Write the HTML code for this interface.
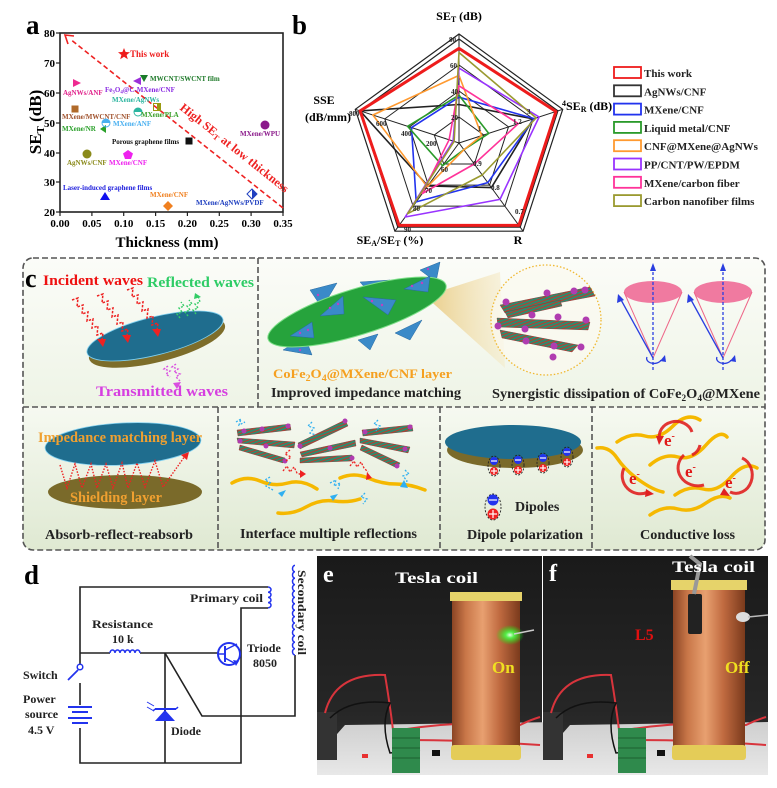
<!DOCTYPE html>
<html><head><meta charset="utf-8">
<style>
html,body{margin:0;padding:0;background:#fff;}
svg{display:block;}
text{font-family:"Liberation Serif",serif;font-weight:bold;}
</style></head>
<body>
<svg width="777" height="788" viewBox="0 0 777 788" xmlns="http://www.w3.org/2000/svg">
<defs>
  <linearGradient id="bgTop" x1="0" y1="0" x2="0" y2="1">
    <stop offset="0" stop-color="#fbfcf8"/><stop offset="1" stop-color="#eef4e6"/>
  </linearGradient>
  <linearGradient id="bgBot" x1="0" y1="0" x2="0" y2="1">
    <stop offset="0" stop-color="#f6f9f1"/><stop offset="1" stop-color="#dfe9d2"/>
  </linearGradient>
  <linearGradient id="copper" x1="0" y1="0" x2="1" y2="0">
    <stop offset="0" stop-color="#8a4424"/><stop offset="0.2" stop-color="#c87648"/>
    <stop offset="0.45" stop-color="#e8a070"/><stop offset="0.7" stop-color="#c06a40"/>
    <stop offset="1" stop-color="#7a3a1c"/>
  </linearGradient>
  <linearGradient id="dark" x1="0" y1="0" x2="0" y2="1">
    <stop offset="0" stop-color="#1a1a1a"/><stop offset="0.7" stop-color="#262626"/><stop offset="1" stop-color="#333"/>
  </linearGradient>
  <linearGradient id="table" x1="0" y1="0" x2="0" y2="1">
    <stop offset="0" stop-color="#cfcfcf"/><stop offset="1" stop-color="#e8e8e8"/>
  </linearGradient>
  <linearGradient id="cone" x1="0" y1="0" x2="1" y2="0">
    <stop offset="0" stop-color="#e8c77a" stop-opacity="0.9"/><stop offset="1" stop-color="#f5e6bb" stop-opacity="0.4"/>
  </linearGradient>
  <radialGradient id="glow" cx="0.5" cy="0.5" r="0.5">
    <stop offset="0" stop-color="#eaffea"/><stop offset="0.3" stop-color="#4cff4c" stop-opacity="0.9"/><stop offset="1" stop-color="#00ff00" stop-opacity="0"/>
  </radialGradient>
  <pattern id="st" width="3" height="3" patternUnits="userSpaceOnUse" patternTransform="rotate(70)">
    <rect width="3" height="3" fill="#2f8a6e"/><rect width="1" height="3" fill="#c0392b"/>
  </pattern>
</defs>

<!-- ================= PANEL A ================= -->
<text x="26" y="34" font-size="27">a</text>
<rect x="60" y="33" width="223" height="179" fill="none" stroke="#222" stroke-width="1.6"/>
<g stroke="#222" stroke-width="1.2">
  <line x1="56" y1="33" x2="60" y2="33"/><line x1="56" y1="63" x2="60" y2="63"/>
  <line x1="56" y1="93" x2="60" y2="93"/><line x1="56" y1="123" x2="60" y2="123"/>
  <line x1="56" y1="153" x2="60" y2="153"/><line x1="56" y1="182" x2="60" y2="182"/>
  <line x1="56" y1="212" x2="60" y2="212"/>
  <line x1="60" y1="212" x2="60" y2="216"/><line x1="91.9" y1="212" x2="91.9" y2="216"/>
  <line x1="123.7" y1="212" x2="123.7" y2="216"/><line x1="155.6" y1="212" x2="155.6" y2="216"/>
  <line x1="187.4" y1="212" x2="187.4" y2="216"/><line x1="219.3" y1="212" x2="219.3" y2="216"/>
  <line x1="251.1" y1="212" x2="251.1" y2="216"/><line x1="283" y1="212" x2="283" y2="216"/>
</g>
<g font-size="11" text-anchor="end">
  <text x="55" y="37">80</text><text x="55" y="67">70</text><text x="55" y="97">60</text>
  <text x="55" y="127">50</text><text x="55" y="157">40</text><text x="55" y="186">30</text>
  <text x="55" y="216">20</text>
</g>
<g font-size="11" text-anchor="middle">
  <text x="60" y="227">0.00</text><text x="91.9" y="227">0.05</text><text x="123.7" y="227">0.10</text>
  <text x="155.6" y="227">0.15</text><text x="187.4" y="227">0.20</text><text x="219.3" y="227">0.25</text>
  <text x="251.1" y="227">0.30</text><text x="283" y="227">0.35</text>
</g>
<text transform="translate(41,122) rotate(-90)" text-anchor="middle" font-size="17">SE<tspan font-size="11" dy="3">T</tspan><tspan dy="-3"> (dB)</tspan></text>
<text x="167" y="247" text-anchor="middle" font-size="15">Thickness (mm)</text>

<!-- red dashed trend line -->
<line x1="283" y1="208" x2="70" y2="39" stroke="#ee2222" stroke-width="1.6" stroke-dasharray="5,3"/>
<polyline points="74,36 65,35 68,44" fill="none" stroke="#ee2222" stroke-width="1.6"/>
<text transform="translate(232,151) rotate(38.5)" text-anchor="middle" font-size="12" fill="#ee2222" textLength="135" lengthAdjust="spacingAndGlyphs">High SE<tspan font-size="8" dy="2">T</tspan><tspan dy="-2"> at low thickness</tspan></text>

<!-- markers -->
<polygon points="124,48 125.6,52 130,52.2 126.6,55 127.8,59.3 124,56.8 120.2,59.3 121.4,55 118,52.2 122.4,52" fill="#ee1c1c"/>
<text x="130" y="57" font-size="9" fill="#ee1c1c">This work</text>
<polygon points="73,79 81,83 73,87" fill="#ee2a90"/>
<text x="63" y="95" font-size="7" fill="#e0208a">AgNWs/ANF</text>
<polygon points="141,77 133,81 141,85" fill="#9b30d9"/>
<text x="105" y="92" font-size="7" fill="#8a2be2">Fe<tspan font-size="5" dy="1.5">3</tspan><tspan dy="-1.5">O</tspan><tspan font-size="5" dy="1.5">4</tspan><tspan dy="-1.5">@C-MXene/CNF</tspan></text>
<polygon points="140,75 148,75 144,82" fill="#1a7a2a"/>
<text x="150" y="81" font-size="7" fill="#1f7a2a">MWCNT/SWCNT film</text>
<text x="112" y="102" font-size="7" fill="#2bb5a0">MXene/AgNWs</text>
<rect x="71.5" y="105.5" width="7" height="7" fill="#b06a2a"/>
<text x="62" y="119" font-size="7" fill="#a0522d">MXene/MWCNT/CNF</text>
<path d="M134,112 a4,4 0 0 1 8,0 z" fill="#2bb5a0"/><circle cx="138" cy="112" r="4" fill="none" stroke="#2bb5a0"/>
<rect x="153.5" y="103.5" width="7" height="7" fill="none" stroke="#9a9a10"/><rect x="157" y="103.5" width="3.5" height="7" fill="#9a9a10"/>
<text x="141" y="117" font-size="7" fill="#3aa02a">MXene/PLA</text>
<polygon points="100,129 106,125 106,133" fill="#2aa02a"/>
<text x="62" y="131" font-size="7" fill="#2aa02a">MXene/NR</text>
<path d="M102,123 a4,4 0 0 1 8,0 z" fill="#4ab0f0"/><circle cx="106" cy="123" r="4" fill="none" stroke="#4ab0f0"/>
<text x="113" y="126" font-size="7" fill="#4ab0f0">MXene/ANF</text>
<circle cx="265" cy="125" r="4.5" fill="#8b1a8b"/>
<text x="240" y="136" font-size="7" fill="#8b1a8b">MXene/WPU</text>
<rect x="185.5" y="137.5" width="7" height="7" fill="#111"/>
<text x="112" y="144" font-size="7" fill="#111">Porous graphene films</text>
<circle cx="87" cy="154" r="4.5" fill="#8a8a1a"/>
<text x="67" y="165" font-size="7" fill="#8a8a1a">AgNWs/CNF</text>
<polygon points="128,150 133,153.5 131,159 125,159 123,153.5" fill="#ee22ee"/>
<text x="109" y="165" font-size="7" fill="#ee22ee">MXene/CNF</text>
<text x="63" y="190" font-size="7" fill="#2020dd">Laser-induced graphene films</text>
<polygon points="105,192 110,200 100,200" fill="#1010ee"/>
<text x="150" y="197" font-size="7" fill="#f08020">MXene/CNF</text>
<polygon points="168,201 173,206 168,211 163,206" fill="#f08020"/>
<text x="196" y="205" font-size="7" fill="#2040c0">MXene/AgNWs/PVDF</text>
<polygon points="252,189 257,194 252,199 247,194" fill="none" stroke="#2040c0"/><polygon points="252,189 257,194 252,199" fill="#2040c0"/>

<!-- ================= PANEL B ================= -->
<text x="292" y="34" font-size="27">b</text>
<text x="459" y="20" text-anchor="middle" font-size="12">SE<tspan font-size="8" dy="2">T</tspan><tspan dy="-2"> (dB)</tspan></text>
<text x="324" y="104" text-anchor="middle" font-size="12">SSE</text>
<text x="328" y="121" text-anchor="middle" font-size="12">(dB/mm)</text>
<text x="562" y="110" font-size="12"><tspan font-size="8" dy="-4">4</tspan><tspan dy="4">SE</tspan><tspan font-size="8" dy="2">R</tspan><tspan dy="-2"> (dB)</tspan></text>
<text x="390" y="244" text-anchor="middle" font-size="12">SE<tspan font-size="8" dy="2">A</tspan><tspan dy="-2">/SE</tspan><tspan font-size="8" dy="2">T</tspan><tspan dy="-2"> (%)</tspan></text>
<text x="518" y="244" text-anchor="middle" font-size="12">R</text>

<g fill="none" stroke="#222" stroke-width="1">
  <polygon points="459,34 562.7,109.3 523.1,231.2 394.9,231.2 355.3,109.3" stroke-width="1.2"/>
  <polygon points="459,39 557.9,110.9 520.2,227.1 397.8,227.1 360.1,110.9" stroke-width="1.2"/>
  <polygon points="459,65 533.2,118.9 504.9,206.1 413.1,206.1 384.8,118.9"/>
  <polygon points="459,91 508.5,126.9 489.6,185.1 428.4,185.1 409.5,126.9"/>
  <polygon points="459,117 483.7,135 474.3,164 443.7,164 434.3,135"/>
  <line x1="459" y1="143" x2="459" y2="34"/>
  <line x1="459" y1="143" x2="562.7" y2="109.3"/>
  <line x1="459" y1="143" x2="523.1" y2="231.2"/>
  <line x1="459" y1="143" x2="394.9" y2="231.2"/>
  <line x1="459" y1="143" x2="355.3" y2="109.3"/>
</g>
<g fill="none" stroke-width="1.6" stroke-linejoin="round">
  <polygon points="459,104.5 533.2,118.9 491.4,187.6 427.8,185.9 360.1,110.9" stroke="#222"/>
  <polygon points="459,97.2 534.1,118.6 487.8,182.6 416.2,201.9 411.5,127.6" stroke="#2233ee"/>
  <polygon points="459,95.2 488.7,133.4 463.9,149.7 442.5,165.7 407.6,126.3" stroke="#2a9a2a"/>
  <polygon points="459,75.4 481.7,135.6 463.9,149.7 427.2,186.8 372.9,115" stroke="#ff9a30"/>
  <polygon points="459,68.1 539.1,117 500,199.4 405.2,217 453.1,141.1" stroke="#9933ff"/>
  <polygon points="459,85.8 518.3,123.7 474.3,164 422.3,193.5 449.1,139.8" stroke="#ff3399"/>
  <polygon points="459,52.5 536.1,117.9 482.2,175 407.6,213.7 454.1,141.4" stroke="#9a9a30"/>
  <polygon points="459,48.4 555.9,111.5 518.9,225.4 399.1,225.4 360.1,110.9" stroke="#ee1c1c" stroke-width="3"/>
</g>
<g font-size="7" fill="#222">
  <text x="449" y="42">80</text><text x="450" y="68">60</text><text x="451" y="94">40</text><text x="451" y="120">20</text>
  <text x="349" y="116">800</text><text x="376" y="126">600</text><text x="401" y="136">400</text><text x="426" y="146">200</text>
  <text x="527" y="114">3</text><text x="513" y="124">1.2</text><text x="478" y="131">1</text>
  <text x="473" y="166">0.9</text><text x="491" y="190">0.8</text><text x="515" y="214">0.7</text>
  <text x="441" y="172">60</text><text x="425" y="193">70</text><text x="413" y="211">80</text><text x="404" y="232">90</text>
</g>

<!-- legend -->
<g fill="none" stroke-width="1.8">
  <rect x="614" y="67" width="27" height="11" stroke="#ee1c1c"/>
  <rect x="614" y="85.3" width="27" height="11" stroke="#333"/>
  <rect x="614" y="103.6" width="27" height="11" stroke="#2233ee"/>
  <rect x="614" y="121.9" width="27" height="11" stroke="#2a9a2a"/>
  <rect x="614" y="140.2" width="27" height="11" stroke="#ff9a30"/>
  <rect x="614" y="158.5" width="27" height="11" stroke="#9933ff"/>
  <rect x="614" y="176.8" width="27" height="11" stroke="#ff3399"/>
  <rect x="614" y="195.1" width="27" height="11" stroke="#9a9a30"/>
</g>
<g font-size="11" fill="#222">
  <text x="644" y="77">This work</text>
  <text x="644" y="95.3">AgNWs/CNF</text>
  <text x="644" y="113.6">MXene/CNF</text>
  <text x="644" y="131.9">Liquid metal/CNF</text>
  <text x="644" y="150.2">CNF@MXene@AgNWs</text>
  <text x="644" y="168.5">PP/CNT/PW/EPDM</text>
  <text x="644" y="186.8">MXene/carbon fiber</text>
  <text x="644" y="205.1">Carbon nanofiber films</text>
</g>

<!-- ================= PANEL C ================= -->
<path d="M23,407 V268 a10,10 0 0 1 10,-10 H755 a10,10 0 0 1 10,10 V407 Z" fill="url(#bgTop)"/>
<path d="M23,407 H765 V540 a10,10 0 0 1 -10,10 H33 a10,10 0 0 1 -10,-10 Z" fill="url(#bgBot)"/>
<g fill="none" stroke="#555" stroke-width="1.6" stroke-dasharray="6,3">
  <rect x="23" y="258" width="742" height="292" rx="10"/>
  <line x1="23" y1="407" x2="765" y2="407"/>
  <line x1="258" y1="258" x2="258" y2="407"/>
  <line x1="218" y1="407" x2="218" y2="550"/>
  <line x1="440" y1="407" x2="440" y2="550"/>
  <line x1="592" y1="407" x2="592" y2="550"/>
</g>
<text x="25" y="287" font-size="26">c</text>

<!-- top-left cell -->
<ellipse cx="157" cy="342" rx="70" ry="20" transform="rotate(-14 157 342)" fill="#7d6d2a"/>
<ellipse cx="155" cy="336" rx="70" ry="19" transform="rotate(-14 155 336)" fill="#1f6d8e" stroke="#7fd0f0" stroke-width="0.8"/>
<g fill="none" stroke="#ee2222" stroke-width="1.5" stroke-dasharray="2.5,1.5">
  <path d="M72,300 l6,-2 l-1,9 l6,-2 l-1,9 l6,-2 l-1,9 l6,-2 l-1,9 l6,-2 l-1,9 l6,-2 l-1,7"/>
  <path d="M97,296 l6,-2 l-1,9 l6,-2 l-1,9 l6,-2 l-1,9 l6,-2 l-1,9 l6,-2 l-1,9 l6,-2 l-1,7"/>
  <path d="M127,290 l6,-2 l-1,9 l6,-2 l-1,9 l6,-2 l-1,9 l6,-2 l-1,9 l6,-2 l-1,9 l6,-2 l-1,7"/>
</g>
<g fill="#ee2222">
  <polygon points="97,339 106,339 103,347"/><polygon points="122,335 131,335 128,343"/><polygon points="152,329 161,329 158,337"/>
</g>
<g fill="none" stroke="#33cc66" stroke-width="1.4" stroke-dasharray="2,1.5">
  <path d="M180,318 l-3,-4 l5,-2 l-3,-4 l5,-2 l-3,-4"/>
  <path d="M188,316 l-3,-4 l5,-2 l-3,-4 l5,-2 l-3,-4"/>
  <path d="M196,314 l-3,-4 l5,-2 l-3,-4 l5,-2 l-2,-6"/>
</g>
<polygon points="195,293 201,297 194,299" fill="#33cc66"/>
<g fill="none" stroke="#d94ee0" stroke-width="1.4" stroke-dasharray="2,1.5">
  <path d="M176,364 l-4,3 l6,2 l-4,3 l6,2 l-4,3 l4,4"/>
  <path d="M168,366 l-4,3 l6,2 l-4,3 l4,3"/>
</g>
<polygon points="173,383 181,382 177,389" fill="#d94ee0"/>
<text x="43" y="285" font-size="15" fill="#ee1111" textLength="100" lengthAdjust="spacingAndGlyphs">Incident waves</text>
<text x="147" y="287" font-size="15" fill="#2ecc66" textLength="107" lengthAdjust="spacingAndGlyphs">Reflected waves</text>
<text x="96" y="396" font-size="15" fill="#d63fe0" textLength="132" lengthAdjust="spacingAndGlyphs">Transmitted waves</text>

<!-- top-middle cell -->
<polygon points="425,296 500,272 505,368" fill="url(#cone)"/>
<g fill="#3a8ac8" stroke="#2a6aa0" stroke-width="0.5">
  <polygon points="283,350 305,337 312,355"/>
  <polygon points="310,290 337,283 322,308"/>
  <polygon points="420,270 440,262 436,282"/>
  <polygon points="360,282 390,280 372,296"/>
  <polygon points="395,333 422,320 410,340"/>
  <polygon points="358,340 378,334 370,350"/>
</g>
<ellipse cx="357" cy="312" rx="93" ry="23" transform="rotate(-17 357 312)" fill="#26a33c" stroke="#7fe08a" stroke-width="1"/>
<g fill="#3a8ac8" stroke="#2a6aa0" stroke-width="0.5">
  <polygon points="290,336 312,322 314,338"/>
  <polygon points="320,316 343,296 344,314"/>
  <polygon points="363,297 396,300 388,315"/>
  <polygon points="404,289 430,276 428,292"/>
</g>
<g fill="#c040c0">
  <circle cx="300" cy="333" r="1.2"/><circle cx="308" cy="330" r="1.2"/><circle cx="330" cy="308" r="1.2"/><circle cx="338" cy="304" r="1.2"/>
  <circle cx="372" cy="301" r="1.2"/><circle cx="382" cy="305" r="1.2"/><circle cx="412" cy="286" r="1.2"/><circle cx="422" cy="283" r="1.2"/>
  <circle cx="300" cy="350" r="1.2"/><circle cx="318" cy="295" r="1.2"/><circle cx="428" cy="269" r="1.2"/>
</g>
<circle cx="546" cy="320" r="55" fill="#fbfaf0" fill-opacity="0.7" stroke="#f0b830" stroke-width="1.3" stroke-dasharray="1.5,2"/>
<g stroke="#8a3030" stroke-width="0.4">
  <polygon points="500,305 590,287 595,296 505,313" fill="url(#st)"/>
  <polygon points="497,318 590,322 588,330 498,327" fill="url(#st)"/>
  <polygon points="500,330 578,345 572,352 502,338" fill="url(#st)"/>
  <polygon points="505,312 560,300 562,306 508,318" fill="url(#st)"/>
</g>
<g fill="#b03cb0">
  <circle cx="547" cy="293" r="3.5"/><circle cx="574" cy="291" r="3.5"/><circle cx="585" cy="290" r="3.5"/>
  <circle cx="506" cy="302" r="3.5"/><circle cx="532" cy="315" r="3.5"/><circle cx="558" cy="317" r="3.5"/>
  <circle cx="586" cy="320" r="3.5"/><circle cx="498" cy="326" r="3.5"/><circle cx="525" cy="329" r="3.5"/>
  <circle cx="526" cy="341" r="3.5"/><circle cx="554" cy="346" r="3.5"/><circle cx="581" cy="347" r="3.5"/><circle cx="553" cy="357" r="3.5"/>
</g>
<text x="273" y="378" font-size="13" fill="#f5a020" textLength="179" lengthAdjust="spacingAndGlyphs">CoFe<tspan font-size="9" dy="3">2</tspan><tspan dy="-3">O</tspan><tspan font-size="9" dy="3">4</tspan><tspan dy="-3">@MXene/CNF layer</tspan></text>
<text x="271" y="397" font-size="14" fill="#222" textLength="190" lengthAdjust="spacingAndGlyphs">Improved impedance matching</text>

<!-- top-right cones -->
<g>
  <ellipse cx="653" cy="292" rx="29" ry="11" fill="#f07aa0"/>
  <ellipse cx="723" cy="292" rx="29" ry="11" fill="#f07aa0"/>
  <g stroke="#ee6688" stroke-width="1" fill="none">
    <path d="M624,292 L653,358 L682,292"/><path d="M694,292 L723,358 L752,292"/>
  </g>
  <g stroke="#2a3ee0" stroke-width="1.3" fill="none">
    <line x1="653" y1="370" x2="653" y2="268" stroke-dasharray="3,2"/>
    <line x1="723" y1="370" x2="723" y2="268" stroke-dasharray="3,2"/>
    <line x1="653" y1="358" x2="620" y2="298"/>
    <line x1="723" y1="358" x2="690" y2="298"/>
    <path d="M647,357 a6,4 0 1 0 14,3"/><path d="M717,357 a6,4 0 1 0 14,3"/>
  </g>
  <g fill="#2a3ee0">
    <polygon points="653,263 650,271 656,271"/><polygon points="723,263 720,271 726,271"/>
    <polygon points="618,294 617,303 624,300"/><polygon points="688,294 687,303 694,300"/>
    <polygon points="665,355 660,361 666,362"/><polygon points="735,355 730,361 736,362"/>
  </g>
</g>
<text x="492" y="398" font-size="14" fill="#222" textLength="268" lengthAdjust="spacingAndGlyphs">Synergistic dissipation of CoFe<tspan font-size="9" dy="3">2</tspan><tspan dy="-3">O</tspan><tspan font-size="9" dy="3">4</tspan><tspan dy="-3">@MXene</tspan></text>

<!-- bottom cell 1 -->
<ellipse cx="125" cy="492" rx="77" ry="17" fill="#7a6a2a"/>
<ellipse cx="123" cy="444" rx="78" ry="21" transform="rotate(-3 123 444)" fill="#1f6d8e" stroke="#80d0f0" stroke-width="0.8"/>
<path d="M60,465 L67,488 L75,464 L82,488 L91,464 L97,488 L106,464 L113,488 L122,463 L128,488 L137,463 L145,487 L155,461 L163,487 L185,456" fill="none" stroke="#ee2222" stroke-width="1.4" stroke-dasharray="1.5,1.5"/>
<polygon points="189,452 181,455 187,460" fill="#ee2222"/>
<text x="38" y="442" font-size="15" fill="#f0a030" textLength="164" lengthAdjust="spacingAndGlyphs">Impedance matching layer</text>
<text x="70" y="502" font-size="15" fill="#f0a030" textLength="92" lengthAdjust="spacingAndGlyphs">Shielding layer</text>
<text x="45" y="539" font-size="14" fill="#222" textLength="148" lengthAdjust="spacingAndGlyphs">Absorb-reflect-reabsorb</text>

<!-- bottom cell 2 -->
<g stroke="#8a3030" stroke-width="0.4">
  <polygon points="237,430 290,424 291,430 238,436" fill="url(#st)"/>
  <polygon points="237,438 295,442 294,448 238,443" fill="url(#st)"/>
  <polygon points="240,445 285,458 283,463 239,450" fill="url(#st)"/>
  <polygon points="298,443 345,420 348,426 300,449" fill="url(#st)"/>
  <polygon points="300,452 355,440 356,446 302,457" fill="url(#st)"/>
  <polygon points="300,458 352,455 352,461 300,463" fill="url(#st)"/>
  <polygon points="362,430 412,425 413,431 363,436" fill="url(#st)"/>
  <polygon points="360,438 410,447 408,453 360,443" fill="url(#st)"/>
  <polygon points="362,445 400,463 397,468 360,450" fill="url(#st)"/>
</g>
<g fill="#b03cb0">
  <circle cx="244" cy="431" r="2.5"/><circle cx="262" cy="429" r="2.5"/><circle cx="288" cy="426" r="2.5"/><circle cx="240" cy="441" r="2.5"/>
  <circle cx="266" cy="446" r="2.5"/><circle cx="285" cy="461" r="2.5"/><circle cx="300" cy="446" r="2.5"/><circle cx="345" cy="421" r="2.5"/>
  <circle cx="330" cy="448" r="2.5"/><circle cx="352" cy="458" r="2.5"/><circle cx="365" cy="432" r="2.5"/><circle cx="410" cy="427" r="2.5"/>
  <circle cx="405" cy="449" r="2.5"/><circle cx="397" cy="466" r="2.5"/>
</g>
<g fill="none" stroke="#f5b800" stroke-width="3.5" stroke-linecap="round">
  <path d="M232,483 q14,-8 28,-2 t28,2 t29,6"/>
  <path d="M340,478 q14,-6 28,0 t28,6 t29,6"/>
  <path d="M278,513 q14,2 28,-6 t28,-6 t26,-2"/>
</g>
<g fill="none" stroke="#30b0f0" stroke-width="1.3" stroke-dasharray="2,1.5">
  <path d="M236,422 l5,-3 l-2,6 l6,-3"/><path d="M312,422 l-4,4 l6,2 l-4,5 l6,2"/><path d="M378,420 l-4,4 l6,2 l-4,5"/>
  <path d="M270,477 l-5,3 l6,3 l-5,3 l7,4"/><path d="M330,483 l6,-3 l-2,6 l6,-3 l-2,6"/><path d="M365,493 l-4,4 l6,2 l-4,5"/>
  <path d="M405,470 l4,4 l-6,2 l4,5 l-3,4"/>
</g>
<g fill="none" stroke="#ee2222" stroke-width="1.3" stroke-dasharray="2,1.5">
  <path d="M283,471 l4,-5 l3,6 l4,-5 l3,6 l5,2"/><path d="M350,466 l4,-5 l3,6 l4,-5 l3,6 l4,4"/><path d="M290,450 l-5,4 l6,3 l-5,4"/>
</g>
<g fill="#30b0f0"><polygon points="278,493 286,490 282,497"/><polygon points="330,496 338,494 333,501"/><polygon points="408,488 400,487 404,480"/></g>
<g fill="#ee2222"><polygon points="306,474 300,478 300,470"/><polygon points="372,478 366,480 367,472"/></g>
<text x="240" y="538" font-size="14" fill="#222" textLength="177" lengthAdjust="spacingAndGlyphs">Interface multiple reflections</text>

<!-- bottom cell 3 -->
<ellipse cx="515" cy="450" rx="68" ry="18" fill="#7a6a2a"/>
<ellipse cx="513" cy="442" rx="68" ry="17" fill="#1f6d8e"/>
<g fill="none" stroke="#222" stroke-width="0.9" stroke-dasharray="2,1.5">
  <ellipse cx="494" cy="466" rx="6" ry="10"/><ellipse cx="518" cy="465" rx="6" ry="10"/>
  <ellipse cx="543" cy="463" rx="6" ry="10"/><ellipse cx="567" cy="457" rx="6" ry="10"/>
  <ellipse cx="493" cy="507" rx="8" ry="13"/>
</g>
<g fill="#2233ee">
  <circle cx="494" cy="461" r="4"/><circle cx="518" cy="460" r="4"/><circle cx="543" cy="458" r="4"/><circle cx="567" cy="452" r="4"/><circle cx="493" cy="500" r="5.5"/>
</g>
<g fill="#ee2222">
  <circle cx="494" cy="471" r="4"/><circle cx="518" cy="470" r="4"/><circle cx="543" cy="468" r="4"/><circle cx="567" cy="462" r="4"/><circle cx="493" cy="514" r="5.5"/>
</g>
<g stroke="#fff" stroke-width="1.2">
  <line x1="491" y1="461" x2="497" y2="461"/><line x1="515" y1="460" x2="521" y2="460"/><line x1="540" y1="458" x2="546" y2="458"/><line x1="564" y1="452" x2="570" y2="452"/><line x1="489" y1="500" x2="497" y2="500"/>
  <line x1="491" y1="471" x2="497" y2="471"/><line x1="494" y1="468" x2="494" y2="474"/>
  <line x1="515" y1="470" x2="521" y2="470"/><line x1="518" y1="467" x2="518" y2="473"/>
  <line x1="540" y1="468" x2="546" y2="468"/><line x1="543" y1="465" x2="543" y2="471"/>
  <line x1="564" y1="462" x2="570" y2="462"/><line x1="567" y1="459" x2="567" y2="465"/>
  <line x1="489" y1="514" x2="497" y2="514"/><line x1="493" y1="510" x2="493" y2="518"/>
</g>
<text x="515" y="511" font-size="14" fill="#222">Dipoles</text>
<text x="467" y="539" font-size="14" fill="#222" textLength="116" lengthAdjust="spacingAndGlyphs">Dipole polarization</text>

<!-- bottom cell 4 -->
<g fill="none" stroke="#f5b800" stroke-width="3.5" stroke-linecap="round">
  <path d="M597,448 q12,-2 20,10 t22,22 t24,12"/>
  <path d="M617,442 q14,-10 28,-6 t28,-10 t27,-6"/>
  <path d="M650,465 q14,-12 28,-8 t28,-12 t21,-8"/>
  <path d="M675,495 q14,-10 28,-6 t28,-12 t26,-9"/>
  <path d="M650,515 q14,-10 28,-6 t28,-6 t24,-5"/>
</g>
<g fill="none" stroke="#e02020" stroke-width="3" stroke-opacity="0.9">
  <path d="M660,440 a16,14 0 0 1 32,-8"/><path d="M624,468 a18,18 0 0 0 24,24"/>
  <path d="M684,455 a20,18 0 0 0 20,30"/><path d="M742,458 a16,18 0 0 1 -12,34"/>
  <path d="M700,445 a14,14 0 0 1 -8,10"/>
</g>
<g fill="#e02020">
  <polygon points="656,436 664,436 659,445"/><polygon points="646,489 654,494 645,497"/><polygon points="724,488 730,496 720,495"/>
</g>
<g font-size="17" fill="#e01818" font-weight="normal">
  <text x="664" y="446">e<tspan font-size="10" dy="-7">-</tspan></text>
  <text x="629" y="484">e<tspan font-size="10" dy="-7">-</tspan></text>
  <text x="685" y="477">e<tspan font-size="10" dy="-7">-</tspan></text>
  <text x="725" y="488">e<tspan font-size="10" dy="-7">-</tspan></text>
</g>
<text x="640" y="539" font-size="14" fill="#222" textLength="95" lengthAdjust="spacingAndGlyphs">Conductive loss</text>

<!-- ================= PANEL D ================= -->
<text x="24" y="584" font-size="27">d</text>
<g fill="none" stroke="#222" stroke-width="1.6">
  <path d="M80,664 V587 H268"/>
  <path d="M268,608 H241 V763 H80 V728"/>
  <path d="M80,683 V705"/>
  <path d="M80,653 H110"/>
  <path d="M140,653 H218"/>
  <path d="M165,653 V763"/>
  <path d="M165,653 L202,716 H295 V655"/>
  <path d="M165,709 V721"/>
</g>
<g fill="none" stroke="#2233ee" stroke-width="1.5">
  <path d="M268,587 a3,2.6 0 0 1 0,5.2 a3,2.6 0 0 1 0,5.2 a3,2.6 0 0 1 0,5.2 a3,2.6 0 0 1 0,5.2"/>
  <path d="M295,655 a2.5,3.2 0 0 1 0,-6.4 a2.5,3.2 0 0 1 0,-6.4 a2.5,3.2 0 0 1 0,-6.4 a2.5,3.2 0 0 1 0,-6.4 a2.5,3.2 0 0 1 0,-6.4 a2.5,3.2 0 0 1 0,-6.4 a2.5,3.2 0 0 1 0,-6.4 a2.5,3.2 0 0 1 0,-6.4 a2.5,3.2 0 0 1 0,-6.4 a2.5,3.2 0 0 1 0,-6.4 a2.5,3.2 0 0 1 0,-6.4 a2.5,3.2 0 0 1 0,-6.4 a2.5,3.2 0 0 1 0,-6.4 a2.5,3.2 0 0 1 0,-6.4"/>
  <path d="M110,653 a2.5,3 0 0 1 5,0 a2.5,3 0 0 1 5,0 a2.5,3 0 0 1 5,0 a2.5,3 0 0 1 5,0 a2.5,3 0 0 1 5,0 a2.5,3 0 0 1 5,0"/>
  <circle cx="229" cy="654" r="11" stroke-width="2"/>
  <line x1="225" y1="646" x2="225" y2="662" stroke-width="2"/>
  <line x1="218" y1="654" x2="225" y2="654"/>
  <line x1="225" y1="650" x2="237" y2="644"/>
  <line x1="225" y1="658" x2="236" y2="664"/>
  <circle cx="80" cy="667" r="2.8"/>
  <line x1="78" y1="670" x2="68" y2="680" stroke-width="1.8"/>
  <line x1="68" y1="707" x2="92" y2="707" stroke-width="2"/>
  <line x1="72" y1="712" x2="88" y2="712" stroke-width="2"/>
  <line x1="68" y1="718" x2="92" y2="718" stroke-width="2"/>
  <line x1="72" y1="723" x2="88" y2="723" stroke-width="2"/>
  <line x1="155" y1="709" x2="176" y2="709" stroke-width="2"/>
  <path d="M155,709 l-2,2 M176,709 l2,-2"/>
  <path d="M154,706 l-7,-4 M154,711 l-7,-4" stroke-width="1"/>
</g>
<polygon points="155,721 175,721 165,710" fill="#2233ee"/>
<polygon points="236,666 233,660 239,661" fill="#2233ee"/>
<g font-size="12" fill="#222">
  <text x="190" y="602" textLength="73" lengthAdjust="spacingAndGlyphs">Primary coil</text>
  <text x="92" y="628" textLength="61" lengthAdjust="spacingAndGlyphs">Resistance</text>
  <text x="112" y="643">10 k</text>
  <text x="247" y="652">Triode</text>
  <text x="253" y="667">8050</text>
  <text x="23" y="679">Switch</text>
  <text x="23" y="703">Power</text>
  <text x="25" y="718">source</text>
  <text x="28" y="734">4.5 V</text>
  <text x="171" y="735">Diode</text>
  <text transform="translate(298,570) rotate(90)" textLength="85" lengthAdjust="spacingAndGlyphs">Secondary coil</text>
</g>

<!-- ================= PANEL E ================= -->
<rect x="317" y="556" width="225" height="219" fill="url(#dark)"/>
<polygon points="330,742 345,725 560,722 560,775 317,775 317,742" fill="url(#table)"/>
<rect x="317" y="712" width="20" height="48" fill="#333"/>
<path d="M325,713 q10,-40 60,-38 q5,30 8,55" fill="none" stroke="#d8343c" stroke-width="2"/>
<path d="M330,718 q20,-20 60,-15 q-10,20 0,50 l30,-3" fill="none" stroke="#111" stroke-width="1.5"/>
<path d="M400,730 q60,-10 120,-5 q10,-5 20,-8 M410,740 q60,0 130,5" fill="none" stroke="#d8343c" stroke-width="2"/>
<rect x="452" y="596" width="68" height="158" fill="url(#copper)"/>
<rect x="450" y="592" width="72" height="9" fill="#e6d36a"/>
<rect x="451" y="745" width="70" height="15" rx="3" fill="#e4cc58"/>
<rect x="392" y="728" width="28" height="45" fill="#2f8a4c"/>
<g stroke="#1d6030" stroke-width="1"><line x1="392" y1="738" x2="420" y2="738"/><line x1="392" y1="748" x2="420" y2="748"/><line x1="392" y1="758" x2="420" y2="758"/></g>
<rect x="362" y="754" width="6" height="4" fill="#e83030"/>
<rect x="432" y="750" width="8" height="6" fill="#111"/>
<ellipse cx="510" cy="635" rx="14" ry="10" fill="url(#glow)"/>
<path d="M514,634 l20,-4" stroke="#ccc" stroke-width="1.5"/>
<text x="323" y="582" font-size="24" fill="#fff">e</text>
<text x="395" y="583" font-size="16" fill="#fff" textLength="83" lengthAdjust="spacingAndGlyphs">Tesla coil</text>
<text x="492" y="673" font-size="17" fill="#f0e020">On</text>

<!-- ================= PANEL F ================= -->
<rect x="543" y="556" width="225" height="219" fill="url(#dark)"/>
<polygon points="555,742 570,725 768,722 768,775 543,775 543,742" fill="url(#table)"/>
<rect x="543" y="712" width="20" height="48" fill="#333"/>
<path d="M551,713 q10,-40 60,-38 q5,30 8,55" fill="none" stroke="#d8343c" stroke-width="2"/>
<path d="M556,718 q20,-20 60,-15 q-10,20 0,50 l30,-3" fill="none" stroke="#111" stroke-width="1.5"/>
<path d="M626,730 q60,-10 120,-5 q10,-5 20,-8 M636,740 q60,0 130,5" fill="none" stroke="#d8343c" stroke-width="2"/>
<rect x="673" y="584" width="72" height="170" fill="url(#copper)"/>
<rect x="671" y="580" width="76" height="10" fill="#e6d36a"/>
<rect x="672" y="745" width="74" height="15" rx="3" fill="#e4cc58"/>
<rect x="618" y="728" width="28" height="45" fill="#2f8a4c"/>
<g stroke="#1d6030" stroke-width="1"><line x1="618" y1="738" x2="646" y2="738"/><line x1="618" y1="748" x2="646" y2="748"/><line x1="618" y1="758" x2="646" y2="758"/></g>
<rect x="587" y="754" width="6" height="4" fill="#e83030"/>
<rect x="657" y="750" width="8" height="6" fill="#111"/>
<rect x="688" y="594" width="14" height="40" rx="2" fill="#222"/>
<path d="M690,556 l10,8 l-6,30" stroke="#999" stroke-width="4" fill="none"/>
<ellipse cx="743" cy="617" rx="7" ry="5" fill="#ddd"/>
<path d="M748,617 l20,-2" stroke="#bbb" stroke-width="1.5"/>
<text x="549" y="581" font-size="24" fill="#fff">f</text>
<text x="672" y="572" font-size="16" fill="#fff" textLength="83" lengthAdjust="spacingAndGlyphs">Tesla coil</text>
<text x="635" y="640" font-size="16" fill="#e01010">L5</text>
<text x="725" y="673" font-size="17" fill="#f0e020">Off</text>
</svg>
</body></html>
